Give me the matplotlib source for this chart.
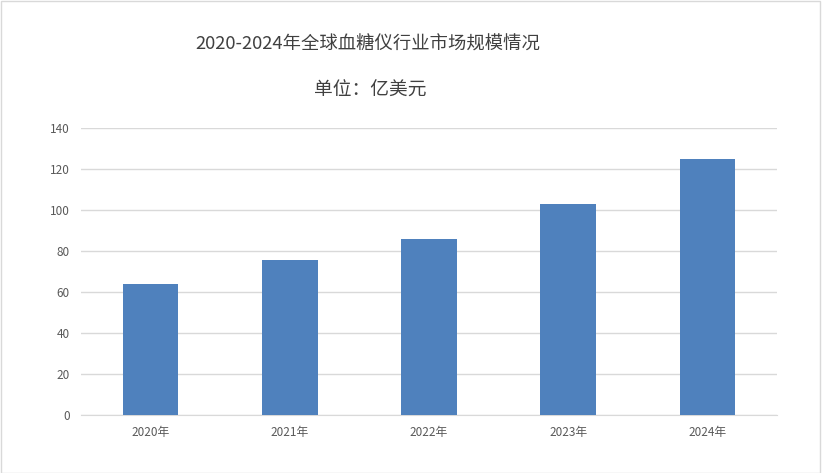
import matplotlib
matplotlib.use("Agg")
import matplotlib.pyplot as plt
from matplotlib.patches import Rectangle

plt.rcParams['font.family'] = ['Noto Sans CJK SC', 'DejaVu Sans']

# data
years = ["2020年", "2021年", "2022年", "2023年", "2024年"]
market_size = [64, 75.5, 86, 103, 125]
yticks = [0, 20, 40, 60, 80, 100, 120, 140]

fig = plt.figure(figsize=(8.22, 4.73), dpi=100)
ax = fig.add_axes([0.0985, 0.1226, 0.8467, 0.6068])

ax.bar(range(len(years)), market_size, width=0.4, color="#4f81bd", zorder=3)

ax.set_xlim(-0.5, len(years) - 0.5)
ax.set_ylim(0, 140)
ax.set_yticks(yticks)
ax.set_xticks(range(len(years)))
ax.set_xticklabels(years)
ax.grid(axis="y", color="#d9d9d9", linewidth=1, zorder=0)
ax.tick_params(axis="both", length=0, labelsize=8.5, colors="#595959", pad=8)
for s in ["top", "right", "left"]:
    ax.spines[s].set_visible(False)
ax.spines["bottom"].set_color("#d9d9d9")

fig.text(0.448, 0.905, "2020-2024年全球血糖仪行业市场规模情况", ha="center", va="center",
         fontsize=13.2, color="#404040")
fig.text(0.45, 0.81, "单位：亿美元", ha="center", va="center",
         fontsize=13.5, color="#404040")

# outer border
fig.patches.append(Rectangle((0.001, 0.001), 0.997, 0.997, transform=fig.transFigure,
                             fill=False, edgecolor="#d9d9d9", linewidth=1))

fig.savefig("out.png", dpi=100)
